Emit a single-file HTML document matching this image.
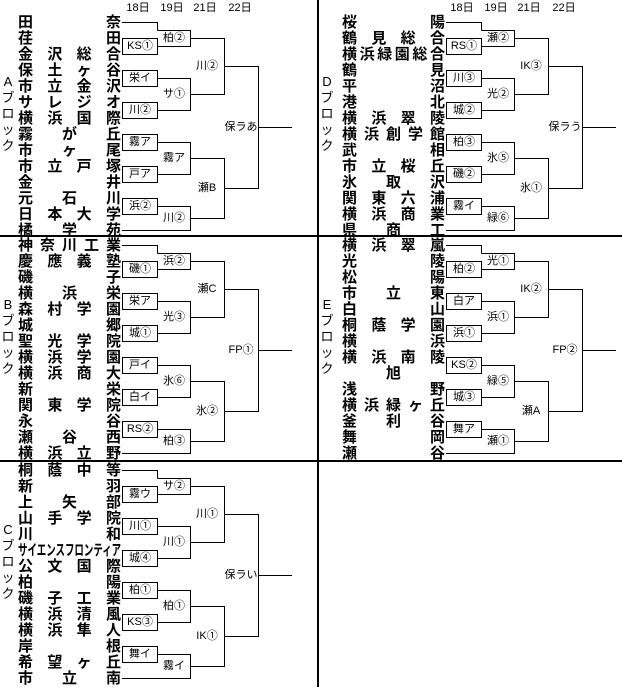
<!DOCTYPE html>
<html><head><meta charset="utf-8"><style>
html,body{margin:0;padding:0;background:#fff;}
body{width:622px;height:687px;position:relative;overflow:hidden;font-family:"Liberation Sans","Noto Sans CJK JP",sans-serif;color:#000;}
.n{position:absolute;height:16px;line-height:16px;font-size:15px;font-weight:bold;display:flex;justify-content:space-between;width:103px;white-space:nowrap;font-family:"Noto Sans CJK JP","WenQuanYi Zen Hei",sans-serif;}
.n.c{justify-content:center;}
.lb{position:absolute;width:14px;font-size:13px;line-height:16px;text-align:center;font-family:"Liberation Sans","Noto Sans CJK JP",sans-serif;}
svg{position:absolute;left:0;top:0;}
svg text{font-family:"Liberation Sans","Noto Sans CJK JP",sans-serif;font-size:11px;}
</style></head><body>
<svg width="622" height="687" viewBox="0 0 622 687">
<defs>
<g id="br" fill="none" stroke="#000" stroke-width="1">
<polyline points="122,0.5 157.5,0.5 157.5,8.5"/>
<rect x="122.5" y="16.5" width="35" height="16"/>
<polyline points="157.5,8.5 190.5,8.5 190.5,24.5 157.5,24.5"/>
<rect x="122.5" y="48.5" width="35" height="16"/>
<rect x="122.5" y="80.5" width="35" height="16"/>
<polyline points="157.5,56.5 190.5,56.5 190.5,88.5 157.5,88.5"/>
<polyline points="190.5,16.5 224.5,16.5 224.5,72.5 190.5,72.5"/>
<rect x="122.5" y="112.5" width="35" height="16"/>
<rect x="122.5" y="144.5" width="35" height="16"/>
<rect x="122.5" y="176.5" width="35" height="16"/>
<polyline points="157.5,120.5 190.5,120.5 190.5,152.5 157.5,152.5"/>
<polyline points="122,208.5 190.5,208.5 190.5,184.5 157.5,184.5"/>
<polyline points="190.5,136.5 224.5,136.5 224.5,196.5 190.5,196.5"/>
<polyline points="224.5,44.5 258.5,44.5 258.5,166.5 224.5,166.5"/>
<line x1="258.5" y1="105.5" x2="292" y2="105.5"/>
</g>
</defs>
<use href="#br" transform="translate(0,22)"/>
<use href="#br" transform="translate(0,245)"/>
<use href="#br" transform="translate(0,470)"/>
<use href="#br" transform="translate(324,22)"/>
<use href="#br" transform="translate(324,245)"/>

<rect x="317" y="0" width="2" height="687" fill="#000"/>
<rect x="0" y="235" width="622" height="2" fill="#000"/>
<rect x="0" y="460" width="622" height="2" fill="#000"/>

<g text-anchor="middle">
<text x="138" y="11">18日</text><text x="172" y="11">19日</text><text x="205" y="11">21日</text><text x="240" y="11">22日</text>
<text x="462" y="11">18日</text><text x="496" y="11">19日</text><text x="529" y="11">21日</text><text x="564" y="11">22日</text>
</g>

<g text-anchor="middle" dominant-baseline="central">
<g transform="translate(0,22)">
<text x="140" y="24">KS①</text><text x="140" y="56">栄イ</text><text x="140" y="88">川②</text><text x="140" y="120">霧ア</text><text x="140" y="152">戸ア</text><text x="140" y="184">浜②</text>
<text x="174" y="16">柏②</text><text x="174" y="72">サ①</text><text x="174" y="136">霧ア</text><text x="174" y="196">川②</text>
<text x="207" y="44">川②</text><text x="207" y="166">瀬B</text><text x="241" y="105">保ラあ</text>
</g>
<g transform="translate(0,245)">
<text x="140" y="24">磯①</text><text x="140" y="56">栄ア</text><text x="140" y="88">城①</text><text x="140" y="120">戸イ</text><text x="140" y="152">白イ</text><text x="140" y="184">RS②</text>
<text x="174" y="16">浜②</text><text x="174" y="72">光③</text><text x="174" y="136">氷⑥</text><text x="174" y="196">柏③</text>
<text x="207" y="44">瀬C</text><text x="207" y="166">氷②</text><text x="241" y="105">FP①</text>
</g>
<g transform="translate(0,470)">
<text x="140" y="24">霧ウ</text><text x="140" y="56">川①</text><text x="140" y="88">城④</text><text x="140" y="120">柏①</text><text x="140" y="152">KS③</text><text x="140" y="184">舞イ</text>
<text x="174" y="16">サ②</text><text x="174" y="72">川①</text><text x="174" y="136">柏①</text><text x="174" y="196">霧イ</text>
<text x="207" y="44">川①</text><text x="207" y="166">IK①</text><text x="241" y="105">保ラい</text>
</g>
<g transform="translate(324,22)">
<text x="140" y="24">RS①</text><text x="140" y="56">川③</text><text x="140" y="88">城②</text><text x="140" y="120">柏③</text><text x="140" y="152">磯②</text><text x="140" y="184">霧イ</text>
<text x="174" y="16">瀬②</text><text x="174" y="72">光②</text><text x="174" y="136">氷⑤</text><text x="174" y="196">緑⑥</text>
<text x="207" y="44">IK③</text><text x="207" y="166">氷①</text><text x="241" y="105">保ラう</text>
</g>
<g transform="translate(324,245)">
<text x="140" y="24">柏②</text><text x="140" y="56">白ア</text><text x="140" y="88">浜①</text><text x="140" y="120">KS②</text><text x="140" y="152">城③</text><text x="140" y="184">舞ア</text>
<text x="174" y="16">光①</text><text x="174" y="72">浜①</text><text x="174" y="136">緑⑤</text><text x="174" y="196">瀬①</text>
<text x="207" y="44">IK②</text><text x="207" y="166">瀬A</text><text x="241" y="105">FP②</text>
</g>
</g>
</svg>

<!-- Block labels -->
<div class="lb" style="left:1px;top:74px">A<br>ブ<br>ロ<br>ッ<br>ク</div>
<div class="lb" style="left:1px;top:297px">B<br>ブ<br>ロ<br>ッ<br>ク</div>
<div class="lb" style="left:1px;top:522px">C<br>ブ<br>ロ<br>ッ<br>ク</div>
<div class="lb" style="left:320px;top:74px">D<br>ブ<br>ロ<br>ッ<br>ク</div>
<div class="lb" style="left:320px;top:297px">E<br>ブ<br>ロ<br>ッ<br>ク</div>

<!-- Block A -->
<div class="n" style="left:18px;top:14px"><span>田</span><span>奈</span></div>
<div class="n" style="left:18px;top:30px"><span>荏</span><span>田</span></div>
<div class="n" style="left:18px;top:46px"><span>金</span><span>沢</span><span>総</span><span>合</span></div>
<div class="n" style="left:18px;top:62px"><span>保</span><span>土</span><span>ヶ</span><span>谷</span></div>
<div class="n" style="left:18px;top:78px"><span>市</span><span>立</span><span>金</span><span>沢</span></div>
<div class="n" style="left:18px;top:94px"><span>サ</span><span>レ</span><span>ジ</span><span>オ</span></div>
<div class="n" style="left:18px;top:110px"><span>横</span><span>浜</span><span>国</span><span>際</span></div>
<div class="n" style="left:18px;top:126px"><span>霧</span><span>が</span><span>丘</span></div>
<div class="n" style="left:18px;top:142px"><span>市</span><span>ヶ</span><span>尾</span></div>
<div class="n" style="left:18px;top:158px"><span>市</span><span>立</span><span>戸</span><span>塚</span></div>
<div class="n" style="left:18px;top:174px"><span>金</span><span>井</span></div>
<div class="n" style="left:18px;top:190px"><span>元</span><span>石</span><span>川</span></div>
<div class="n" style="left:18px;top:206px"><span>日</span><span>本</span><span>大</span><span>学</span></div>
<div class="n" style="left:18px;top:222px"><span>橘</span><span>学</span><span>苑</span></div>

<!-- Block B -->
<div class="n" style="left:18px;top:237px"><span>神</span><span>奈</span><span>川</span><span>工</span><span>業</span></div>
<div class="n" style="left:18px;top:253px"><span>慶</span><span>應</span><span>義</span><span>塾</span></div>
<div class="n" style="left:18px;top:269px"><span>磯</span><span>子</span></div>
<div class="n" style="left:18px;top:285px"><span>横</span><span>浜</span><span>栄</span></div>
<div class="n" style="left:18px;top:301px"><span>森</span><span>村</span><span>学</span><span>園</span></div>
<div class="n" style="left:18px;top:317px"><span>城</span><span>郷</span></div>
<div class="n" style="left:18px;top:333px"><span>聖</span><span>光</span><span>学</span><span>院</span></div>
<div class="n" style="left:18px;top:349px"><span>横</span><span>浜</span><span>学</span><span>園</span></div>
<div class="n" style="left:18px;top:365px"><span>横</span><span>浜</span><span>商</span><span>大</span></div>
<div class="n" style="left:18px;top:381px"><span>新</span><span>栄</span></div>
<div class="n" style="left:18px;top:397px"><span>関</span><span>東</span><span>学</span><span>院</span></div>
<div class="n" style="left:18px;top:413px"><span>永</span><span>谷</span></div>
<div class="n" style="left:18px;top:429px"><span>瀬</span><span>谷</span><span>西</span></div>
<div class="n" style="left:18px;top:445px"><span>横</span><span>浜</span><span>立</span><span>野</span></div>

<!-- Block C -->
<div class="n" style="left:18px;top:462px"><span>桐</span><span>蔭</span><span>中</span><span>等</span></div>
<div class="n" style="left:18px;top:478px"><span>新</span><span>羽</span></div>
<div class="n" style="left:18px;top:494px"><span>上</span><span>矢</span><span>部</span></div>
<div class="n" style="left:18px;top:510px"><span>山</span><span>手</span><span>学</span><span>院</span></div>
<div class="n" style="left:18px;top:526px"><span>川</span><span>和</span></div>
<div class="n" style="left:18px;top:542px;display:block"><span style="display:inline-block;transform:scaleX(0.63);transform-origin:0 50%">サイエンスフロンティア</span></div>
<div class="n" style="left:18px;top:558px"><span>公</span><span>文</span><span>国</span><span>際</span></div>
<div class="n" style="left:18px;top:574px"><span>柏</span><span>陽</span></div>
<div class="n" style="left:18px;top:590px"><span>磯</span><span>子</span><span>工</span><span>業</span></div>
<div class="n" style="left:18px;top:606px"><span>横</span><span>浜</span><span>清</span><span>風</span></div>
<div class="n" style="left:18px;top:622px"><span>横</span><span>浜</span><span>隼</span><span>人</span></div>
<div class="n" style="left:18px;top:638px"><span>岸</span><span>根</span></div>
<div class="n" style="left:18px;top:654px"><span>希</span><span>望</span><span>ヶ</span><span>丘</span></div>
<div class="n" style="left:18px;top:670px"><span>市</span><span>立</span><span>南</span></div>

<!-- Block D -->
<div class="n" style="left:342px;top:14px"><span>桜</span><span>陽</span></div>
<div class="n" style="left:342px;top:30px"><span>鶴</span><span>見</span><span>総</span><span>合</span></div>
<div class="n" style="left:342px;top:46px"><span>横</span><span>浜</span><span>緑</span><span>園</span><span>総</span><span>合</span></div>
<div class="n" style="left:342px;top:62px"><span>鶴</span><span>見</span></div>
<div class="n" style="left:342px;top:78px"><span>平</span><span>沼</span></div>
<div class="n" style="left:342px;top:94px"><span>港</span><span>北</span></div>
<div class="n" style="left:342px;top:110px"><span>横</span><span>浜</span><span>翠</span><span>陵</span></div>
<div class="n" style="left:342px;top:126px"><span>横</span><span>浜</span><span>創</span><span>学</span><span>館</span></div>
<div class="n" style="left:342px;top:142px"><span>武</span><span>相</span></div>
<div class="n" style="left:342px;top:158px"><span>市</span><span>立</span><span>桜</span><span>丘</span></div>
<div class="n" style="left:342px;top:174px"><span>氷</span><span>取</span><span>沢</span></div>
<div class="n" style="left:342px;top:190px"><span>関</span><span>東</span><span>六</span><span>浦</span></div>
<div class="n" style="left:342px;top:206px"><span>横</span><span>浜</span><span>商</span><span>業</span></div>
<div class="n" style="left:342px;top:222px"><span>県</span><span>商</span><span>工</span></div>

<!-- Block E -->
<div class="n" style="left:342px;top:237px"><span>横</span><span>浜</span><span>翠</span><span>嵐</span></div>
<div class="n" style="left:342px;top:253px"><span>光</span><span>陵</span></div>
<div class="n" style="left:342px;top:269px"><span>松</span><span>陽</span></div>
<div class="n" style="left:342px;top:285px"><span>市</span><span>立</span><span>東</span></div>
<div class="n" style="left:342px;top:301px"><span>白</span><span>山</span></div>
<div class="n" style="left:342px;top:317px"><span>桐</span><span>蔭</span><span>学</span><span>園</span></div>
<div class="n" style="left:342px;top:333px"><span>横</span><span>浜</span></div>
<div class="n" style="left:342px;top:349px"><span>横</span><span>浜</span><span>南</span><span>陵</span></div>
<div class="n c" style="left:342px;top:365px"><span>旭</span></div>
<div class="n" style="left:342px;top:381px"><span>浅</span><span>野</span></div>
<div class="n" style="left:342px;top:397px"><span>横</span><span>浜</span><span>緑</span><span>ヶ</span><span>丘</span></div>
<div class="n" style="left:342px;top:413px"><span>釜</span><span>利</span><span>谷</span></div>
<div class="n" style="left:342px;top:429px"><span>舞</span><span>岡</span></div>
<div class="n" style="left:342px;top:445px"><span>瀬</span><span>谷</span></div>
</body></html>
